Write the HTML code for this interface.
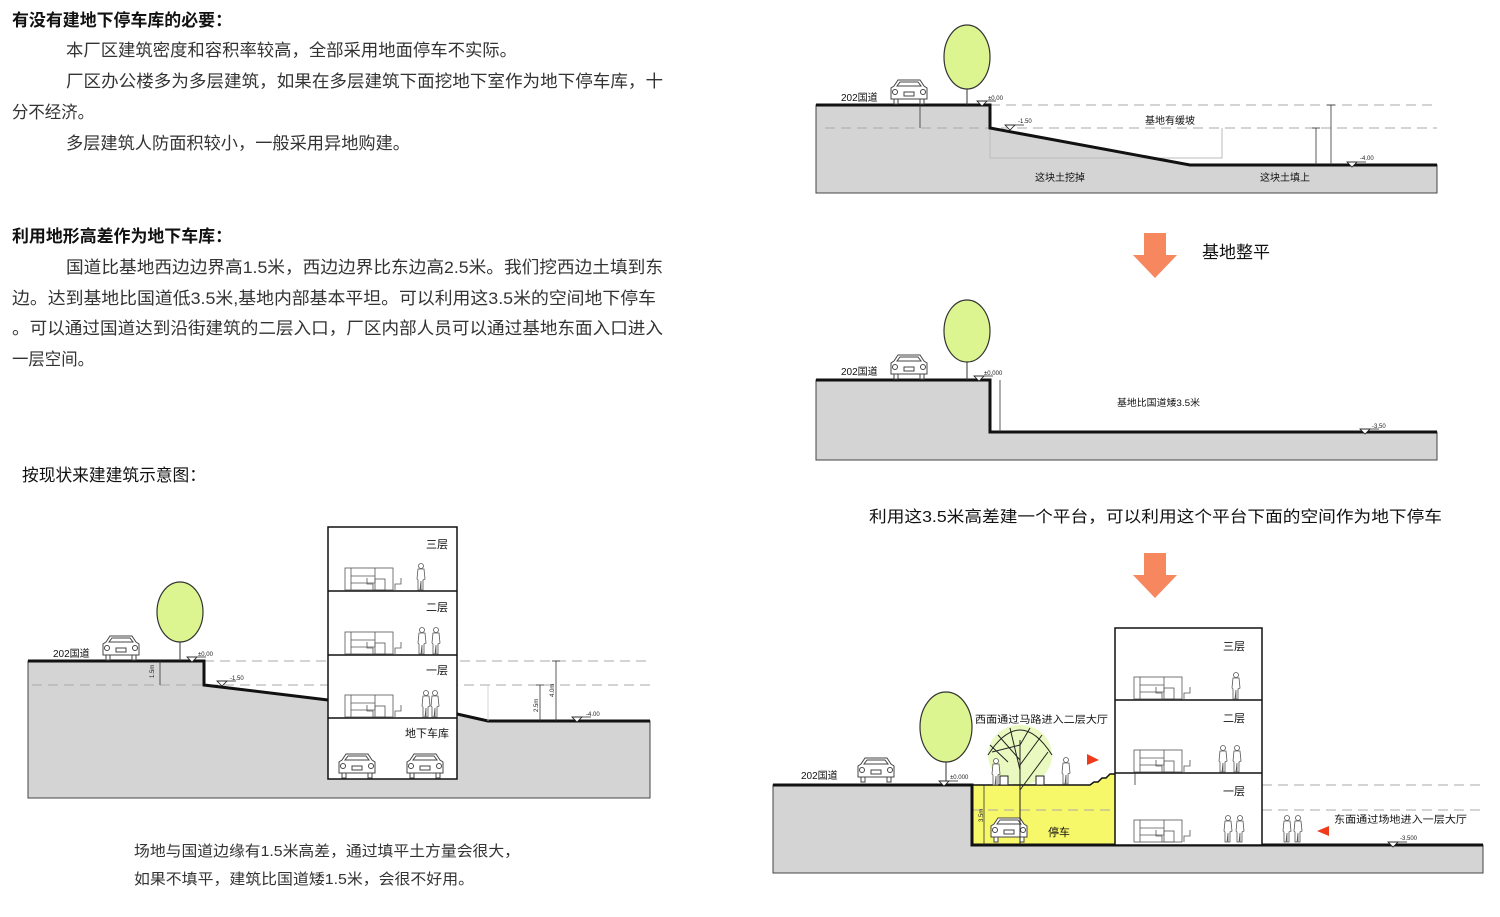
<!DOCTYPE html>
<html><head><meta charset="utf-8">
<style>
html,body{margin:0;padding:0;background:#fff;}
svg{display:block;}
text{font-family:"Liberation Sans","Noto Sans CJK SC",sans-serif;}
.t{font-size:17px;fill:#333;}
.h{font-size:17px;fill:#111;font-weight:bold;}
.s{font-size:10px;fill:#111;}
.xs{font-size:6px;fill:#222;}
.fl{font-size:11px;fill:#111;}
</style></head><body>
<svg width="1500" height="917" viewBox="0 0 1500 917" xmlns="http://www.w3.org/2000/svg">
<defs>
  <g id="car" fill="#fff" stroke="#444" stroke-width="1">
    <path d="M4,-18 L8,-24 L30,-24 L34,-18 L37,-16 L37,-5 L1,-5 L1,-16 Z"/>
    <path d="M7,-18 L10,-22 L28,-22 L31,-18 Z"/>
    <rect x="14" y="-12" width="10" height="4"/>
    <circle cx="5" cy="-12" r="2.5"/><circle cx="33" cy="-12" r="2.5"/>
    <rect x="4" y="-5" width="4" height="5"/><rect x="30" y="-5" width="4" height="5"/>
  </g>
  <g id="furn" fill="none" stroke="#555" stroke-width="0.8">
    <rect x="0" y="-22" width="48" height="22"/>
    <line x1="6" y1="-22" x2="6" y2="0"/>
    <line x1="6" y1="-14" x2="30" y2="-14"/>
    <line x1="6" y1="-7" x2="30" y2="-7"/>
    <line x1="30" y1="-22" x2="30" y2="-7"/>
    <rect x="30" y="-11" width="10" height="11"/>
    <path d="M22,-12 L22,-6 L28,-6 L28,0"/>
    <path d="M56,-12 L56,-6 L50,-6 L50,0"/>
  </g>
  <g id="man" fill="#fff" stroke="#555" stroke-width="0.8">
    <circle cx="0" cy="-24" r="2.5"/>
    <path d="M-3,-21 L3,-21 L4,-11 L2,-10 L2,0 L0,0 L0,-9 L-1,0 L-3,0 L-3,-10 L-4,-11 Z"/>
  </g>
  <g id="lvl" fill="#fff" stroke="#222" stroke-width="0.8">
    <path d="M-5,0 L5,0 L0,5 Z"/><line x1="-5" y1="0" x2="14" y2="0"/>
  </g>
  <g id="arrow" fill="#f7875e">
    <rect x="-11" y="0" width="22" height="22"/>
    <path d="M-22,22 L22,22 L0,45 Z"/>
  </g>
</defs>

<!-- Left text -->
<text x="12" y="26" class="h" textLength="220" lengthAdjust="spacingAndGlyphs">有没有建地下停车库的必要：</text>
<text x="66" y="56" class="t" textLength="451" lengthAdjust="spacingAndGlyphs">本厂区建筑密度和容积率较高，全部采用地面停车不实际。</text>
<text x="66" y="87" class="t" textLength="597" lengthAdjust="spacingAndGlyphs">厂区办公楼多为多层建筑，如果在多层建筑下面挖地下室作为地下停车库，十</text>
<text x="12" y="118" class="t" textLength="82" lengthAdjust="spacingAndGlyphs">分不经济。</text>
<text x="66" y="149" class="t" textLength="344" lengthAdjust="spacingAndGlyphs">多层建筑人防面积较小，一般采用异地购建。</text>

<text x="12" y="242" class="h" textLength="220" lengthAdjust="spacingAndGlyphs">利用地形高差作为地下车库：</text>
<text x="66" y="273" class="t" textLength="597" lengthAdjust="spacingAndGlyphs">国道比基地西边边界高1.5米，西边边界比东边高2.5米。我们挖西边土填到东</text>
<text x="12" y="304" class="t" textLength="644" lengthAdjust="spacingAndGlyphs">边。达到基地比国道低3.5米,基地内部基本平坦。可以利用这3.5米的空间地下停车</text>
<text x="12" y="334" class="t" textLength="651" lengthAdjust="spacingAndGlyphs">。可以通过国道达到沿街建筑的二层入口，厂区内部人员可以通过基地东面入口进入</text>
<text x="12" y="365" class="t" textLength="82" lengthAdjust="spacingAndGlyphs">一层空间。</text>

<text x="22" y="481" class="h" style="font-weight:normal;fill:#111" textLength="184" lengthAdjust="spacingAndGlyphs">按现状来建建筑示意图：</text>

<!-- Left diagram -->
<path d="M28,661 L204,661 L204,685 L328,700 L328,779 L457,779 L457,714 L488,721 L650,721 L650,798 L28,798 Z" fill="#d4d4d4" stroke="#444" stroke-width="1"/>
<g stroke="#aaa" stroke-width="1" stroke-dasharray="10,6" fill="none">
  <line x1="204" y1="661" x2="650" y2="661"/>
  <line x1="32" y1="685" x2="650" y2="685"/>
</g>
<path d="M28,661 L204,661 L204,685 L328,700" fill="none" stroke="#111" stroke-width="3"/>
<path d="M457,714 L488,721 L650,721" fill="none" stroke="#111" stroke-width="3"/>
<rect x="328" y="527" width="129" height="252" fill="#fff" stroke="#111" stroke-width="1.5"/>
<g stroke="#111" stroke-width="1.5"><line x1="328" y1="591" x2="457" y2="591"/><line x1="328" y1="655" x2="457" y2="655"/><line x1="328" y1="718" x2="457" y2="718"/></g>
<text x="426" y="548" class="fl">三层</text>
<text x="426" y="611" class="fl">二层</text>
<text x="426" y="674" class="fl">一层</text>
<text x="405" y="737" class="fl">地下车库</text>
<use href="#furn" x="345" y="590"/><use href="#man" x="421" y="590"/>
<use href="#furn" x="345" y="654"/><use href="#man" x="422" y="654"/><use href="#man" x="436" y="654"/>
<use href="#furn" x="345" y="717"/><use href="#man" x="426" y="717"/><use href="#man" x="435" y="717"/>
<use href="#car" x="338" y="778"/><use href="#car" x="406" y="778"/>
<use href="#car" x="102" y="660"/>
<line x1="180" y1="640" x2="180" y2="661" stroke="#333"/>
<ellipse cx="180" cy="612" rx="23" ry="30" fill="#dcf590" stroke="#333" stroke-width="1.2"/>
<text x="53" y="657" class="s">202国道</text>
<use href="#lvl" x="192" y="657"/><text x="198" y="656" class="xs">±0.00</text>
<use href="#lvl" x="222" y="681"/><text x="230" y="680" class="xs">-1.50</text>
<use href="#lvl" x="577" y="717"/><text x="586" y="716" class="xs">-4.00</text>
<g stroke="#333" stroke-width="0.8"><line x1="160" y1="661" x2="160" y2="685"/><line x1="540" y1="685" x2="540" y2="721"/><line x1="556" y1="661" x2="556" y2="721"/><line x1="536" y1="685" x2="544" y2="685"/><line x1="552" y1="661" x2="560" y2="661"/></g>
<line x1="488" y1="685" x2="488" y2="721" stroke="#ccc" stroke-width="0.8"/>
<text x="154" y="678" class="xs" transform="rotate(-90 154 678)">1.5m</text>
<text x="538" y="712" class="xs" transform="rotate(-90 538 712)">2.5m</text>
<text x="554" y="697" class="xs" transform="rotate(-90 554 697)">4.0m</text>
<text x="134" y="856" style="font-size:15px;fill:#333" textLength="386" lengthAdjust="spacingAndGlyphs">场地与国道边缘有1.5米高差，通过填平土方量会很大，</text>
<text x="134" y="884" style="font-size:15px;fill:#333" textLength="340" lengthAdjust="spacingAndGlyphs">如果不填平，建筑比国道矮1.5米，会很不好用。</text>

<!-- Top right diagram 1 -->
<path d="M816,105 L990,105 L990,128 L1190,165 L1437,165 L1437,193 L816,193 Z" fill="#d4d4d4" stroke="#444" stroke-width="1"/>
<g stroke="#aaa" stroke-width="1" stroke-dasharray="10,6" fill="none">
  <line x1="990" y1="105" x2="1437" y2="105"/>
  <line x1="825" y1="128" x2="1437" y2="128"/>
  <path d="M990,128 L990,158 L1222,158 L1222,128" stroke-dasharray="none" stroke="#bbb"/>
</g>
<path d="M816,105 L990,105 L990,128 L1190,165 L1437,165" fill="none" stroke="#111" stroke-width="3"/>
<use href="#car" x="890" y="104"/>
<line x1="967" y1="88" x2="967" y2="105" stroke="#333"/>
<ellipse cx="967" cy="57" rx="23" ry="32" fill="#dcf590" stroke="#333" stroke-width="1.2"/>
<text x="841" y="101" class="s">202国道</text>
<use href="#lvl" x="982" y="101"/><text x="988" y="100" class="xs">±0.00</text>
<use href="#lvl" x="1010" y="125"/><text x="1018" y="123" class="xs">-1.50</text>
<use href="#lvl" x="1352" y="162"/><text x="1360" y="160" class="xs">-4.00</text>
<g stroke="#333" stroke-width="0.8"><line x1="920" y1="105" x2="920" y2="128"/><line x1="1316" y1="128" x2="1316" y2="165"/><line x1="1331" y1="105" x2="1331" y2="165"/><line x1="1312" y1="128" x2="1320" y2="128"/><line x1="1327" y1="105" x2="1335" y2="105"/></g>
<text x="1145" y="124" class="s">基地有缓坡</text>
<text x="1035" y="181" class="s">这块土挖掉</text>
<text x="1260" y="181" class="s">这块土填上</text>

<use href="#arrow" x="1155" y="233"/>
<text x="1202" y="258" style="font-size:17px;fill:#111">基地整平</text>

<!-- Diagram 2 -->
<path d="M816,380 L990,380 L990,432 L1437,432 L1437,460 L816,460 Z" fill="#d4d4d4" stroke="#444" stroke-width="1"/>
<path d="M816,380 L990,380 L990,432 L1437,432" fill="none" stroke="#111" stroke-width="3"/>
<use href="#car" x="890" y="379"/>
<line x1="967" y1="362" x2="967" y2="380" stroke="#333"/>
<ellipse cx="967" cy="331" rx="23" ry="31" fill="#dcf590" stroke="#333" stroke-width="1.2"/>
<text x="841" y="375" class="s">202国道</text>
<use href="#lvl" x="979" y="376"/><text x="984" y="375" class="xs">±0.000</text>
<line x1="1000" y1="380" x2="1000" y2="432" stroke="#333" stroke-width="0.8"/>
<text x="1117" y="406" class="s" style="font-size:9.5px" textLength="83" lengthAdjust="spacingAndGlyphs">基地比国道矮3.5米</text>
<use href="#lvl" x="1365" y="429"/><text x="1372" y="428" class="xs">-3.50</text>

<text x="869" y="522" style="font-size:16px;fill:#111" textLength="573" lengthAdjust="spacingAndGlyphs">利用这3.5米高差建一个平台，可以利用这个平台下面的空间作为地下停车</text>
<use href="#arrow" x="1155" y="553"/>

<!-- Diagram 3 -->
<path d="M773,785 L972,785 L972,845 L1483,845 L1483,873 L773,873 Z" fill="#d4d4d4" stroke="#444" stroke-width="1"/>
<path d="M972,785 L1090,785 L1094,782 L1098,782 L1102,778 L1106,778 L1110,774 L1115,774 L1115,845 L972,845 Z" fill="#f7f76a"/>
<ellipse cx="1020" cy="755" rx="32" ry="30" fill="#e4f7b0" opacity="0.8"/>
<g stroke="#aaa" stroke-width="1" stroke-dasharray="10,6" fill="none">
  <line x1="1262" y1="785" x2="1483" y2="785"/>
  <line x1="1262" y1="810" x2="1483" y2="810"/>
  <line x1="1115" y1="785" x2="1262" y2="785"/>
  <line x1="1115" y1="810" x2="1262" y2="810"/>
  <line x1="972" y1="810" x2="1115" y2="810"/>
</g>
<path d="M773,785 L972,785 L972,845 L1483,845" fill="none" stroke="#111" stroke-width="3"/>
<path d="M972,785 L1090,785 L1094,782 L1098,782 L1102,778 L1106,778 L1110,774 L1115,774" fill="none" stroke="#111" stroke-width="1.5"/>
<rect x="1115" y="628" width="147" height="217" fill="#fff" stroke="#111" stroke-width="1.5"/>
<g stroke="#111" stroke-width="1.5"><line x1="1115" y1="700" x2="1262" y2="700"/><line x1="1115" y1="773" x2="1262" y2="773"/></g>
<text x="1223" y="650" class="fl">三层</text>
<text x="1223" y="722" class="fl">二层</text>
<text x="1223" y="795" class="fl">一层</text>
<use href="#furn" x="1134" y="699"/><use href="#man" x="1236" y="699"/>
<use href="#furn" x="1134" y="772"/><use href="#man" x="1223" y="772"/><use href="#man" x="1237" y="772"/>
<use href="#furn" x="1134" y="842"/><use href="#man" x="1228" y="842"/><use href="#man" x="1240" y="842"/>
<use href="#man" x="1287" y="842"/><use href="#man" x="1298" y="842"/>
<use href="#car" x="990" y="842"/>
<line x1="984" y1="785" x2="984" y2="845" stroke="#333" stroke-width="0.8"/>
<text x="983" y="822" class="xs" transform="rotate(-90 983 822)">3.5m</text>
<text x="1048" y="836" class="fl">停车</text>
<g stroke="#222" stroke-width="1" fill="none">
  <line x1="1020" y1="845" x2="1020" y2="740"/>
  <path d="M988,755 Q1020,705 1052,755"/>
  <path d="M1020,745 L992,752 M1020,760 L998,735 M1020,770 L1010,728 M1020,745 L1030,728 M1020,765 L1042,735 M1020,790 L1048,752 M1008,762 L990,745"/>
</g>
<rect x="1000" y="776" width="8" height="9" fill="#fff" stroke="#222"/>
<rect x="1036" y="776" width="8" height="9" fill="#fff" stroke="#222"/>
<use href="#man" x="996" y="785"/><use href="#man" x="1066" y="784"/>
<path d="M1087,754 L1099,760 L1087,765 Z" fill="#ee3b1c"/>
<path d="M1329,836 L1317,831 L1329,826 Z" fill="#ee3b1c"/>
<use href="#car" x="857" y="782"/>
<line x1="946" y1="760" x2="946" y2="785" stroke="#333"/>
<ellipse cx="946" cy="727" rx="26" ry="35" fill="#dcf590" stroke="#333" stroke-width="1.2"/>
<text x="801" y="779" class="s">202国道</text>
<use href="#lvl" x="944" y="781"/><text x="950" y="779" class="xs">±0.000</text>
<line x1="1135" y1="773" x2="1135" y2="785" stroke="#333" stroke-width="0.8"/>
<text x="975" y="723" style="font-size:10px;fill:#111" textLength="133" lengthAdjust="spacingAndGlyphs">西面通过马路进入二层大厅</text>
<text x="1334" y="823" style="font-size:10px;fill:#111" textLength="133" lengthAdjust="spacingAndGlyphs">东面通过场地进入一层大厅</text>
<use href="#lvl" x="1393" y="842"/><text x="1400" y="840" class="xs">-3.500</text>
</svg>
</body></html>
